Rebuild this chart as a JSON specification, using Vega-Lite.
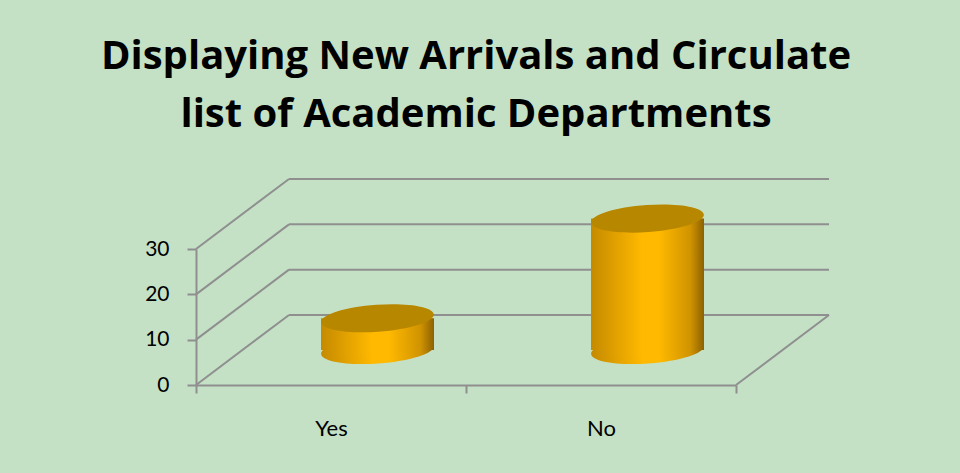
{
  "$schema": "https://vega.github.io/schema/vega-lite/v6.json",
  "width": 540,
  "height": 136,
  "autosize": "none",
  "padding": {"left": 196, "top": 249, "right": 224, "bottom": 88},
  "background": "#C4E1C6",
  "config": {"view": {"stroke": null}, "font": "Lato"},
  "title": {
    "text": ["Displaying New Arrivals and Circulate", "list of Academic Departments"],
    "font": "Open Sans",
    "fontSize": 40,
    "fontWeight": "bold",
    "color": "black",
    "lineHeight": 58,
    "anchor": "middle",
    "frame": "group",
    "offset": 43,
    "dx": 10
  },
  "datasets": {
    "responses": [
      {"answer": "Yes", "count": 7},
      {"answer": "No", "count": 29}
    ],
    "grid": [{"v": 0}, {"v": 10}, {"v": 20}, {"v": 30}]
  },
  "layer": [
    {
      "data": {"name": "grid"},
      "mark": {"type": "rule", "color": "#8F8F8F", "strokeWidth": 2, "xOffset": 93, "x2Offset": 93, "yOffset": -70},
      "encoding": {
        "x": {
          "datum": "Yes", "type": "nominal", "bandPosition": 0,
          "scale": {"domain": ["Yes", "No"], "paddingInner": 0, "paddingOuter": 0},
          "axis": {
            "title": null, "labelAngle": 0, "domainColor": "#8F8F8F", "domainWidth": 2,
            "tickBand": "extent", "tickColor": "#8F8F8F", "tickWidth": 2, "tickSize": 8,
            "labelFont": "Lato", "labelFontSize": 22, "labelColor": "black", "labelPadding": 25
          }
        },
        "x2": {"datum": "No", "bandPosition": 1},
        "y": {
          "field": "v", "type": "quantitative",
          "scale": {"domain": [0, 30], "nice": false},
          "axis": {
            "title": null, "values": [0, 10, 20, 30], "grid": false,
            "domainColor": "#8F8F8F", "domainWidth": 2, "tickColor": "#8F8F8F", "tickWidth": 2, "tickSize": 9,
            "labelFont": "Lato", "labelFontSize": 21, "labelColor": "black", "labelPadding": 18
          }
        }
      }
    },
    {
      "data": {"name": "grid"},
      "mark": {"type": "rule", "color": "#8F8F8F", "strokeWidth": 2, "x2Offset": 93, "y2Offset": -70},
      "encoding": {
        "x": {"datum": "Yes", "type": "nominal", "bandPosition": 0},
        "x2": {"datum": "Yes", "bandPosition": 0},
        "y": {"field": "v", "type": "quantitative"},
        "y2": {"field": "v"}
      }
    },
    {
      "data": {"name": "grid"},
      "transform": [{"filter": "datum.v == 0"}],
      "mark": {"type": "rule", "color": "#8F8F8F", "strokeWidth": 2, "x2Offset": 93, "y2Offset": -70},
      "encoding": {
        "x": {"datum": "No", "type": "nominal", "bandPosition": 1},
        "x2": {"datum": "No", "bandPosition": 1},
        "y": {"field": "v", "type": "quantitative"},
        "y2": {"field": "v"}
      }
    },
    {
      "data": {"name": "responses"},
      "mark": {
        "type": "point", "shape": "M-1,0A1,0.24,0,1,1,1,0A1,0.24,0,1,1,-1,0Z", "size": 12769,
        "filled": true, "opacity": 1, "strokeWidth": 0, "angle": -4, "xOffset": 46.5, "yOffset": -35,
        "fill": {"gradient": "linear", "x1": 0, "y1": 0, "x2": 1, "y2": 0, "stops": [
          {"offset": 0, "color": "#C58A00"}, {"offset": 0.45, "color": "#FFB900"},
          {"offset": 0.6, "color": "#FFB900"}, {"offset": 0.88, "color": "#D09300"},
          {"offset": 1, "color": "#8C6200"}]}
      },
      "encoding": {
        "x": {"field": "answer", "type": "nominal"},
        "y": {"datum": 0, "type": "quantitative"}
      }
    },
    {
      "data": {"name": "responses"},
      "mark": {
        "type": "bar", "width": 113, "xOffset": 46.5, "yOffset": -35, "y2Offset": -35,
        "fill": {"gradient": "linear", "x1": 0, "y1": 0, "x2": 1, "y2": 0, "stops": [
          {"offset": 0, "color": "#C58A00"}, {"offset": 0.45, "color": "#FFB900"},
          {"offset": 0.6, "color": "#FFB900"}, {"offset": 0.88, "color": "#D09300"},
          {"offset": 1, "color": "#8C6200"}]}
      },
      "encoding": {
        "x": {"field": "answer", "type": "nominal"},
        "y": {"field": "count", "type": "quantitative"}
      }
    },
    {
      "data": {"name": "responses"},
      "mark": {
        "type": "point", "shape": "M-1,0A1,0.24,0,1,1,1,0A1,0.24,0,1,1,-1,0Z", "size": 12769,
        "filled": true, "opacity": 1, "strokeWidth": 0, "angle": -4, "xOffset": 46.5, "yOffset": -35,
        "fill": "#B88700"
      },
      "encoding": {
        "x": {"field": "answer", "type": "nominal"},
        "y": {"field": "count", "type": "quantitative"}
      }
    }
  ]
}
